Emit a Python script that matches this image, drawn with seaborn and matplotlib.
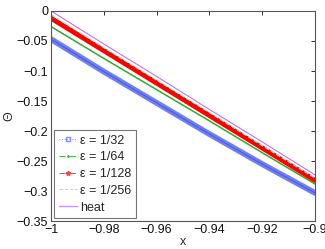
import numpy as np
import pandas as pd
import seaborn as sns
import matplotlib.pyplot as plt
from matplotlib.lines import Line2D

# values at x = -1, -0.98, ..., -0.9
x = [-1.0, -0.98, -0.96, -0.94, -0.92, -0.90]
eps32 = [-0.047, -0.101, -0.153, -0.205, -0.255, -0.303]
eps64 = [-0.026, -0.079, -0.131, -0.183, -0.236, -0.288]
eps128 = [-0.012, -0.066, -0.120, -0.174, -0.228, -0.282]
eps256 = [-0.006, -0.061, -0.115, -0.169, -0.224, -0.278]
heat = [0.0, -0.055, -0.109, -0.164, -0.218, -0.273]

labels = ["\u03b5 = 1/32", "\u03b5 = 1/64", "\u03b5 = 1/128", "\u03b5 = 1/256", "heat"]
xticks = [-1, -0.98, -0.96, -0.94, -0.92, -0.9]
xticklabels = ["\u22121", "\u22120.98", "\u22120.96", "\u22120.94", "\u22120.92", "\u22120.9"]
yticks = [0, -0.05, -0.1, -0.15, -0.2, -0.25, -0.3, -0.35]
yticklabels = ["0", "\u22120.05", "\u22120.1", "\u22120.15", "\u22120.2", "\u22120.25", "\u22120.3", "\u22120.35"]

sns.set_style("white")
plt.rcParams['font.family'] = ['Liberation Sans', 'DejaVu Sans']

fig = plt.figure(figsize=(3.25, 2.49), dpi=100)
ax = fig.add_axes([0.157, 0.112, 0.812, 0.844])

# thick bands stand in for the dense marker runs of the original
sns.lineplot(x=x, y=eps32, color="#6f7ff2", lw=4.2, ax=ax)
sns.lineplot(x=x, y=eps32, color="#3f52e0", lw=0.6, ax=ax)
sns.lineplot(x=x, y=eps64, color="#2eaa2e", lw=1.1, ax=ax)
sns.lineplot(x=x, y=eps128, color="#ff0000", lw=3.6, ax=ax)
sns.lineplot(x=x, y=eps256, color="#7ff5d0", lw=0.9, ls="--", ax=ax)
sns.lineplot(x=x, y=heat, color="#c070f8", lw=0.8, ax=ax)

ax.set_xlim(-1, -0.9)
ax.set_ylim(-0.35, 0)
ax.set_xticks(xticks)
ax.set_xticklabels(xticklabels)
ax.set_yticks(yticks)
ax.set_yticklabels(yticklabels)
ax.tick_params(direction="in", length=3, width=0.6, top=True, right=True,
               labelsize=9, colors="#111111", pad=2)
for s in ax.spines.values():
    s.set_color("#555555")
    s.set_linewidth(0.8)
ax.set_xlabel("x", fontsize=9, labelpad=0)
ax.set_ylabel("\u0398", fontsize=9, labelpad=1)

handles = [
    Line2D([], [], color="#8090ff", lw=0.7, ls=":", marker="s", ms=3, mfc="none"),
    Line2D([], [], color="#40c040", lw=0.7, ls="-.", marker=".", ms=2),
    Line2D([], [], color="#ff4040", lw=0.7, ls="-.", marker="*", ms=3.5),
    Line2D([], [], color="#80f5d0", lw=0.7, ls="--"),
    Line2D([], [], color="#cc90ff", lw=1.0, ls="-"),
]
leg = ax.legend(handles, labels, loc="lower left", fontsize=9, frameon=True,
                fancybox=False, borderpad=0.35, labelspacing=0.38, handlelength=1.5,
                handletextpad=0.25, borderaxespad=0.25)
leg.get_frame().set_edgecolor("#555555")
leg.get_frame().set_linewidth(0.8)

fig.savefig("out.png", dpi=100)
